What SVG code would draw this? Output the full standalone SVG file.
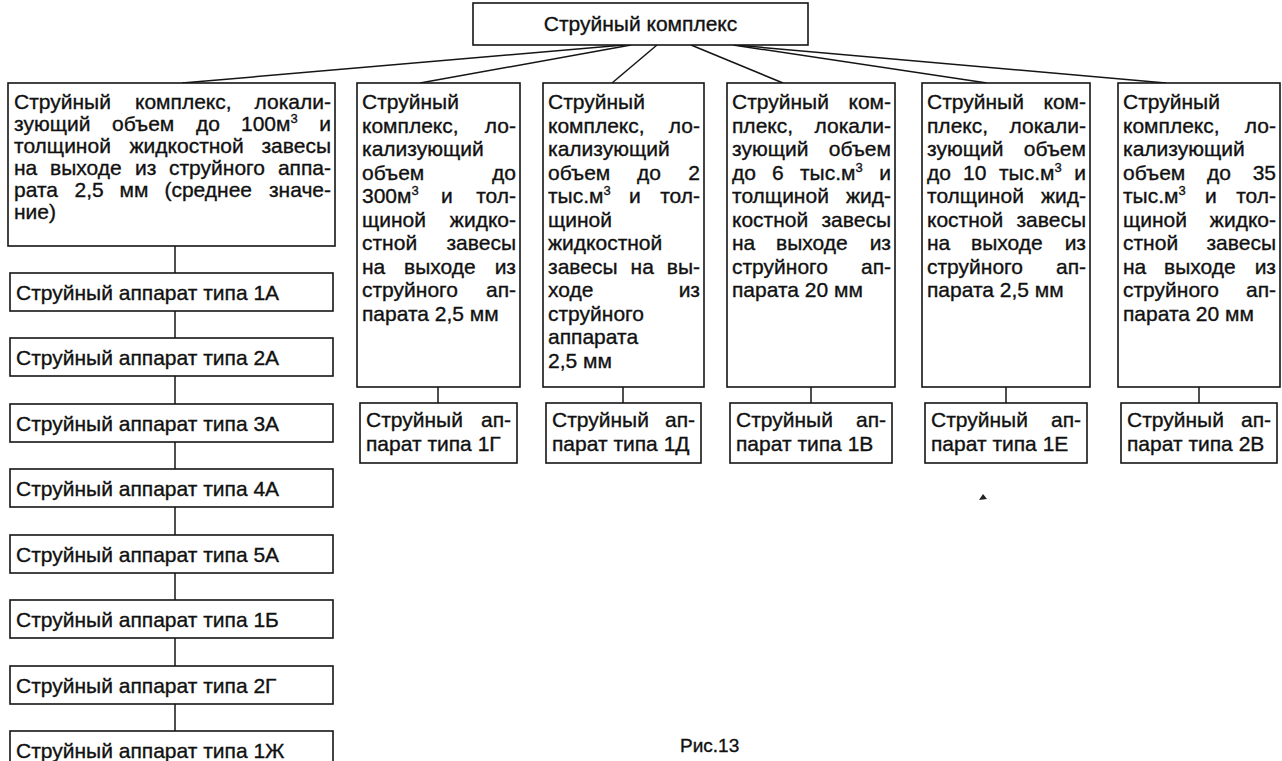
<svg xmlns="http://www.w3.org/2000/svg" width="1282" height="761" viewBox="0 0 1282 761">
<style>
.b{fill:#fff;stroke:#151515;stroke-width:1.6}
.c{fill:none;stroke:#151515;stroke-width:1.5}
text{font-family:"Liberation Sans",Arial,sans-serif;font-size:21px;fill:#111;stroke:#111;stroke-width:0.35}
.e{text-anchor:end}
.m{text-anchor:middle}
.s{font-size:13px}
</style>
<rect width="1282" height="761" fill="#fff"/>
<g id="connectors">
<line class="c" x1="624" y1="45" x2="182" y2="83"/>
<line class="c" x1="631" y1="45" x2="420" y2="83"/>
<line class="c" x1="657" y1="45" x2="612" y2="83"/>
<line class="c" x1="691" y1="45" x2="783" y2="83"/>
<line class="c" x1="733" y1="45" x2="987" y2="83"/>
<line class="c" x1="735" y1="45" x2="1166" y2="83"/>
<line class="c" x1="175" y1="246" x2="175" y2="273"/>
<line class="c" x1="175" y1="311" x2="175" y2="338"/>
<line class="c" x1="175" y1="376" x2="175" y2="404"/>
<line class="c" x1="175" y1="442" x2="175" y2="469"/>
<line class="c" x1="175" y1="507" x2="175" y2="535"/>
<line class="c" x1="175" y1="573" x2="175" y2="600"/>
<line class="c" x1="175" y1="638" x2="175" y2="666"/>
<line class="c" x1="175" y1="704" x2="175" y2="731"/>
<line class="c" x1="438" y1="387" x2="438" y2="403"/>
<line class="c" x1="623" y1="387" x2="623" y2="403"/>
<line class="c" x1="811" y1="387" x2="811" y2="403"/>
<line class="c" x1="1006" y1="387" x2="1006" y2="403"/>
<line class="c" x1="1199" y1="387" x2="1199" y2="403"/>
</g>
<g id="root">
<rect class="b" x="473" y="3" width="335" height="42"/>
<text class="m" x="640.5" y="31">Струйный комплекс</text>
</g>
<g id="n1">
<rect class="b" x="8" y="83" width="327" height="163"/>
<text x="14" y="109">Струйный</text><text x="135" y="109">комплекс,</text><text class="e" x="331" y="109">локали-</text>
<text x="14" y="131">зующий</text><text x="112" y="131">объем</text><text x="196" y="131">до</text><text x="241" y="131">100м<tspan class="s" dy="-8">3</tspan></text><text class="e" x="331" y="131">и</text>
<text x="14" y="153">толщиной</text><text x="129.5" y="153">жидкостной</text><text class="e" x="331" y="153">завесы</text>
<text x="14" y="175">на</text><text x="50" y="175">выходе</text><text x="135" y="175">из</text><text x="169" y="175">струйного</text><text class="e" x="331" y="175">аппа-</text>
<text x="14" y="197">рата</text><text x="74.5" y="197">2,5</text><text x="119.6" y="197">мм</text><text x="164.4" y="197">(среднее</text><text class="e" x="331" y="197">значе-</text>
<text x="14" y="219">ние)</text>
</g>
<g id="n1a"><rect class="b" x="10" y="273" width="323" height="38"/><text x="16" y="300">Струйный аппарат типа 1А</text></g>
<g id="n2a"><rect class="b" x="10" y="338" width="323" height="38"/><text x="16" y="365">Струйный аппарат типа 2А</text></g>
<g id="n3a"><rect class="b" x="10" y="404" width="323" height="38"/><text x="16" y="431">Струйный аппарат типа 3А</text></g>
<g id="n4a"><rect class="b" x="10" y="469" width="323" height="38"/><text x="16" y="496">Струйный аппарат типа 4А</text></g>
<g id="n5a"><rect class="b" x="10" y="535" width="323" height="38"/><text x="16" y="562">Струйный аппарат типа 5А</text></g>
<g id="n1b"><rect class="b" x="10" y="600" width="323" height="38"/><text x="16" y="627">Струйный аппарат типа 1Б</text></g>
<g id="n2g"><rect class="b" x="10" y="666" width="323" height="38"/><text x="16" y="693">Струйный аппарат типа 2Г</text></g>
<g id="n1zh"><rect class="b" x="10" y="731" width="323" height="40"/><text x="16" y="758">Струйный аппарат типа 1Ж</text></g>
<g id="n2">
<rect class="b" x="357" y="83" width="163" height="304"/>
<text x="362" y="109">Струйный</text>
<text x="362" y="132.5">комплекс,</text><text class="e" x="516" y="132.5">ло-</text>
<text x="362" y="156">кализующий</text>
<text x="362" y="179.5">объем</text><text class="e" x="516" y="179.5">до</text>
<text x="362" y="203">300м<tspan class="s" dy="-8">3</tspan></text><text x="441" y="203">и</text><text class="e" x="516" y="203">тол-</text>
<text x="362" y="226.5">щиной</text><text class="e" x="516" y="226.5">жидко-</text>
<text x="362" y="250">стной</text><text class="e" x="516" y="250">завесы</text>
<text x="362" y="273.5">на</text><text x="404" y="273.5">выходе</text><text class="e" x="516" y="273.5">из</text>
<text x="362" y="297">струйного</text><text class="e" x="516" y="297">ап-</text>
<text x="362" y="320.5">парата 2,5 мм</text>
</g>
<g id="n3">
<rect class="b" x="543" y="83" width="161" height="304"/>
<text x="548" y="109">Струйный</text>
<text x="548" y="132.5">комплекс,</text><text class="e" x="700" y="132.5">ло-</text>
<text x="548" y="156">кализующий</text>
<text x="548" y="179.5">объем</text><text x="637" y="179.5">до</text><text class="e" x="700" y="179.5">2</text>
<text x="548" y="203">тыс.м<tspan class="s" dy="-8">3</tspan></text><text x="629" y="203">и</text><text class="e" x="700" y="203">тол-</text>
<text x="548" y="226.5">щиной</text>
<text x="548" y="250">жидкостной</text>
<text x="548" y="273.5">завесы</text><text x="630.6" y="273.5">на</text><text class="e" x="700" y="273.5">вы-</text>
<text x="548" y="297">ходе</text><text class="e" x="700" y="297">из</text>
<text x="548" y="320.5">струйного</text>
<text x="548" y="344">аппарата</text>
<text x="548" y="367.5">2,5 мм</text>
</g>
<g id="n4">
<rect class="b" x="727" y="83" width="168" height="304"/>
<text x="732" y="109">Струйный</text><text class="e" x="891" y="109">ком-</text>
<text x="732" y="132.5">плекс,</text><text class="e" x="891" y="132.5">локали-</text>
<text x="732" y="156">зующий</text><text class="e" x="891" y="156">объем</text>
<text x="732" y="179.5">до</text><text x="772" y="179.5">6</text><text x="800" y="179.5">тыс.м<tspan class="s" dy="-8">3</tspan></text><text class="e" x="891" y="179.5">и</text>
<text x="732" y="203">толщиной</text><text class="e" x="891" y="203">жид-</text>
<text x="732" y="226.5">костной</text><text class="e" x="891" y="226.5">завесы</text>
<text x="732" y="250">на</text><text x="776" y="250">выходе</text><text class="e" x="891" y="250">из</text>
<text x="732" y="273.5">струйного</text><text class="e" x="891" y="273.5">ап-</text>
<text x="732" y="297">парата 20 мм</text>
</g>
<g id="n5">
<rect class="b" x="922" y="83" width="168" height="304"/>
<text x="927" y="109">Струйный</text><text class="e" x="1086" y="109">ком-</text>
<text x="927" y="132.5">плекс,</text><text class="e" x="1086" y="132.5">локали-</text>
<text x="927" y="156">зующий</text><text class="e" x="1086" y="156">объем</text>
<text x="927" y="179.5">до</text><text x="963" y="179.5">10</text><text x="999" y="179.5">тыс.м<tspan class="s" dy="-8">3</tspan></text><text class="e" x="1086" y="179.5">и</text>
<text x="927" y="203">толщиной</text><text class="e" x="1086" y="203">жид-</text>
<text x="927" y="226.5">костной</text><text class="e" x="1086" y="226.5">завесы</text>
<text x="927" y="250">на</text><text x="971" y="250">выходе</text><text class="e" x="1086" y="250">из</text>
<text x="927" y="273.5">струйного</text><text class="e" x="1086" y="273.5">ап-</text>
<text x="927" y="297">парата 2,5 мм</text>
</g>
<g id="n6">
<rect class="b" x="1118" y="83" width="162" height="304"/>
<text x="1123" y="109">Струйный</text>
<text x="1123" y="132.5">комплекс,</text><text class="e" x="1276" y="132.5">ло-</text>
<text x="1123" y="156">кализующий</text>
<text x="1123" y="179.5">объем</text><text x="1207" y="179.5">до</text><text class="e" x="1276" y="179.5">35</text>
<text x="1123" y="203">тыс.м<tspan class="s" dy="-8">3</tspan></text><text x="1205" y="203">и</text><text class="e" x="1276" y="203">тол-</text>
<text x="1123" y="226.5">щиной</text><text class="e" x="1276" y="226.5">жидко-</text>
<text x="1123" y="250">стной</text><text class="e" x="1276" y="250">завесы</text>
<text x="1123" y="273.5">на</text><text x="1164" y="273.5">выходе</text><text class="e" x="1276" y="273.5">из</text>
<text x="1123" y="297">струйного</text><text class="e" x="1276" y="297">ап-</text>
<text x="1123" y="320.5">парата 20 мм</text>
</g>
<g id="n1g"><rect class="b" x="360" y="403" width="157" height="60"/><text x="366" y="427">Струйный</text><text class="e" x="511" y="427">ап-</text><text x="366" y="451">парат типа 1Г</text></g>
<g id="n1d"><rect class="b" x="546" y="403" width="155" height="60"/><text x="552" y="427">Струйный</text><text class="e" x="695" y="427">ап-</text><text x="552" y="451">парат типа 1Д</text></g>
<g id="n1v"><rect class="b" x="730" y="403" width="162" height="60"/><text x="736" y="427">Струйный</text><text class="e" x="886" y="427">ап-</text><text x="736" y="451">парат типа 1В</text></g>
<g id="n1e"><rect class="b" x="925" y="403" width="162" height="60"/><text x="931" y="427">Струйный</text><text class="e" x="1081" y="427">ап-</text><text x="931" y="451">парат типа 1Е</text></g>
<g id="n2v"><rect class="b" x="1121" y="403" width="156" height="60"/><text x="1127" y="427">Струйный</text><text class="e" x="1271" y="427">ап-</text><text x="1127" y="451">парат типа 2В</text></g>
<path d="M979 500 L983 494 L987 499 Z" fill="#222"/>
<text x="680" y="752" style="font-size:19px">Рис.13</text>
</svg>
